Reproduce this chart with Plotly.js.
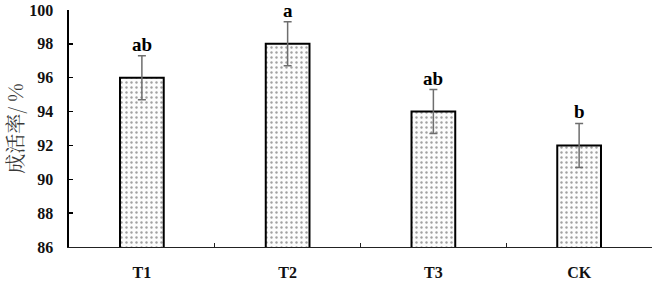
<!DOCTYPE html>
<html><head><meta charset="utf-8">
<script src="https://cdn.plot.ly/plotly-3.0.1.min.js"></script>
<style>body{margin:0;background:#fff}#c{width:654px;height:282px}</style>
</head><body><div id="c"></div>
<script>
const categories = ["T1", "T2", "T3", "CK"];
const survivalRate = [96, 98, 94, 92];
const errorValues = [1.3, 1.3, 1.3, 1.3];
const sigLetters = ["ab", "a", "ab", "b"];
const yTicks = [86, 88, 90, 92, 94, 96, 98, 100];

const serif = "Liberation Serif, Times New Roman, serif";
const trace = {
  type: "bar", x: categories, y: survivalRate, width: 0.3,
  marker: {
    color: "#ffffff",
    line: {color: "#000", width: 2},
    pattern: {shape: ".", fgcolor: "#a0a0a0", bgcolor: "#fcfcfc", size: 5, solidity: 0.18}
  },
  error_y: {type: "data", array: errorValues, visible: true, color: "#6e6e6e", thickness: 1.5, width: 4},
  hoverinfo: "none"
};
const annotations = categories.map((c, i) => ({
  x: c, y: survivalRate[i] + errorValues[i], xref: "x", yref: "y",
  text: "<b>" + sigLetters[i] + "</b>", showarrow: false, yanchor: "bottom", yshift: -1,
  font: {family: serif, size: 19, color: "#000"}
}));
const layout = {
  width: 654, height: 282,
  margin: {l: 69, r: 2, t: 10, b: 35},
  paper_bgcolor: "#fff", plot_bgcolor: "#fff",
  showlegend: false,
  xaxis: {
    type: "category", range: [-0.5, 3.5],
    showline: true, linecolor: "#222", linewidth: 1,
    ticks: "inside", tickson: "boundaries", ticklen: 4, tickcolor: "#222",
    showgrid: false, zeroline: false,
    tickfont: {family: serif, size: 16, color: "#111", weight: "bold"},
    ticklabelstandoff: 11
  },
  yaxis: {
    range: [86, 100], tickvals: yTicks, ticktext: yTicks.map(String),
    showline: true, linecolor: "#000", linewidth: 2.5,
    ticks: "inside", ticklen: 4, tickcolor: "#000", tickwidth: 1.5,
    showgrid: false, zeroline: false,
    tickfont: {family: serif, size: 16, color: "#111", weight: "bold"},
    ticklabelstandoff: 10,
    title: {text: "成活率/ %", font: {family: "Noto Serif CJK SC, Noto Sans CJK SC", size: 20, color: "#3a3a3a"}, standoff: 5}
  },
  annotations: annotations
};
Plotly.newPlot("c", [trace], layout, {staticPlot: true, displayModeBar: false});
</script></body></html>
